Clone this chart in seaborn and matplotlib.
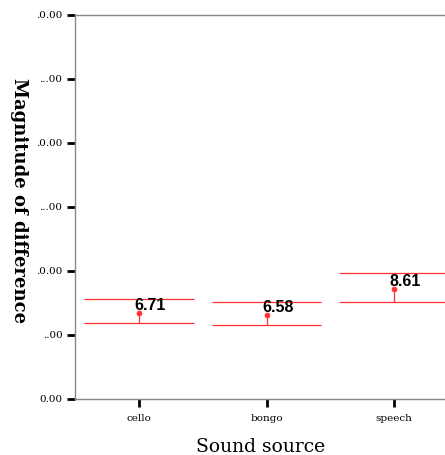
import pandas as pd
import matplotlib.pyplot as plt
import seaborn as sns

# data
sources = ['cello', 'bongo', 'speech']
means = [6.71, 6.58, 8.61]
ci_upper = [7.81, 7.55, 9.82]
ci_lower = [5.94, 5.78, 7.55]
ytick_values = [0, 5, 10, 15, 20, 25, 30]
ytick_labels = ['0.00', '..00', '.0.00', '...00', '.0.00', '...00', '.0.00']

df = pd.DataFrame({'Sound source': sources, 'Magnitude': means})

sns.set_style('white')
plt.rcParams['font.family'] = ['DejaVu Serif']
plt.rcParams['text.color'] = 'black'
plt.rcParams['axes.labelcolor'] = 'black'
plt.rcParams['xtick.color'] = 'black'
plt.rcParams['ytick.color'] = 'black'

fig = plt.figure(figsize=(4.45, 4.55), dpi=100)
ax = fig.add_axes([75 / 445, 56 / 455, 383 / 445, 384 / 455])

red = '#ff3030'
pos = list(range(len(sources)))
# wide caps at the CI limits, stem from the lower limit up to the mean
ax.hlines(ci_upper, [p - 0.43 for p in pos], [p + 0.43 for p in pos], color=red, lw=0.9)
ax.hlines(ci_lower, [p - 0.43 for p in pos], [p + 0.43 for p in pos], color=red, lw=0.9)
ax.vlines(pos, ci_lower, means, color=red, lw=0.9)
sns.scatterplot(data=df, x='Sound source', y='Magnitude', color=red, s=14,
                edgecolor=red, ax=ax, zorder=3)

for p, m in zip(pos, means):
    ax.text(p + 0.09, m + 0.6, f'{m:.2f}', ha='center', va='center', color='black',
            fontsize=11.5, fontweight='bold', family='Liberation Sans', zorder=4)

ax.set_xlim(-0.5, 2.5)
ax.set_ylim(0, 30)
ax.set_yticks(ytick_values)
ax.set_yticklabels(ytick_labels, fontsize=7.5)
ax.set_xticks(pos)
ax.set_xticklabels(sources, fontsize=7.5)
ax.tick_params(axis='both', direction='out', length=6, width=2, color='black',
               left=True, bottom=True, pad=3)
ax.tick_params(axis='x', pad=5)

for side in ['left', 'bottom', 'top']:
    ax.spines[side].set_color('#888888')
    ax.spines[side].set_linewidth(1)
ax.spines['right'].set_visible(False)

ax.set_xlabel('Sound source', fontsize=13.5)
ax.xaxis.set_label_coords(0.485, -0.101)
ax.set_ylabel('Magnitude of difference', fontsize=13, fontweight='bold',
              rotation=-90, va='center')
ax.yaxis.set_label_coords(-0.146, 0.517)

plt.savefig('out.png', dpi=100)
